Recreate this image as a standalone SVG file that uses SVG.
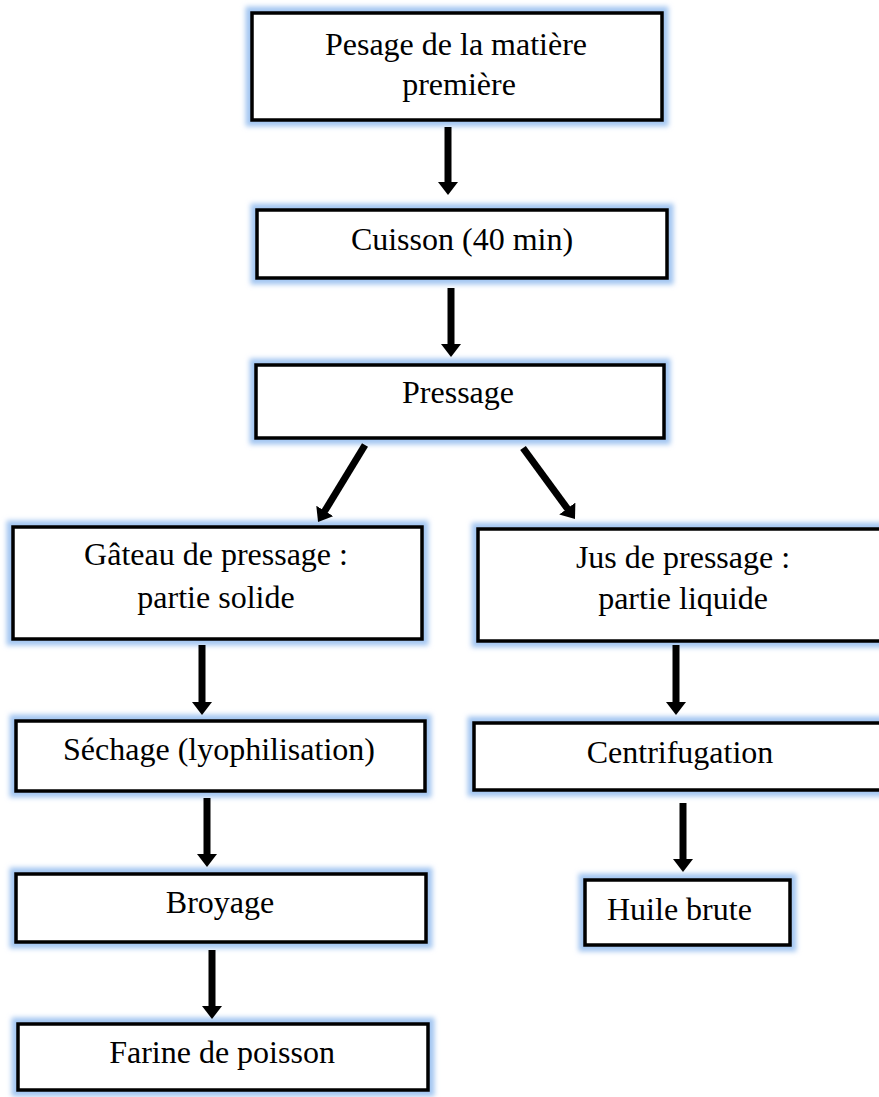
<svg xmlns="http://www.w3.org/2000/svg" width="879" height="1097" viewBox="0 0 879 1097">
<style>
.glow{fill:none;stroke:#a3c6f1;stroke-width:13;filter:url(#blur)}
.box{fill:#fff;stroke:#000;stroke-width:3.5}
.t{font-family:"Liberation Serif","Times New Roman",serif;font-size:32px;fill:#000;text-anchor:middle}
.ts{font-family:"Liberation Serif","Times New Roman",serif;font-size:32px;fill:#000}
.arr{stroke:#000;stroke-width:7;fill:none;marker-end:url(#ah)}
</style>
<defs>
<filter id="blur" x="-10%" y="-30%" width="120%" height="160%"><feGaussianBlur stdDeviation="2.5"/></filter>
<marker id="ah" markerUnits="userSpaceOnUse" viewBox="0 -10 13 20" refX="1" refY="0" markerWidth="13" markerHeight="20" orient="auto"><path d="M0,-10 L13,0 L0,10 z" fill="#000"/></marker>
</defs>
<rect width="879" height="1097" fill="#fff"/>
<g id="n1"><rect class="glow" x="252" y="13" width="410" height="107"/><rect class="box" x="252" y="13" width="410" height="107"/><text class="t" x="456" y="55">Pesage de la matière</text><text class="t" x="459" y="95">première</text></g>
<g id="n2"><rect class="glow" x="257" y="210" width="410" height="68"/><rect class="box" x="257" y="210" width="410" height="68"/><text class="t" x="462" y="250">Cuisson (40 min)</text></g>
<g id="n3"><rect class="glow" x="256" y="365" width="408" height="73"/><rect class="box" x="256" y="365" width="408" height="73"/><text class="t" x="458" y="403">Pressage</text></g>
<g id="n4"><rect class="glow" x="13" y="527" width="409" height="112"/><rect class="box" x="13" y="527" width="409" height="112"/><text class="t" x="216" y="565">Gâteau de pressage :</text><text class="t" x="216" y="608">partie solide</text></g>
<g id="n5"><rect class="glow" x="478" y="529" width="410" height="112"/><rect class="box" x="478" y="529" width="410" height="112"/><text class="t" x="683" y="568">Jus de pressage :</text><text class="t" x="683" y="609">partie liquide</text></g>
<g id="n6"><rect class="glow" x="16" y="721" width="409" height="70"/><rect class="box" x="16" y="721" width="409" height="70"/><text class="t" x="219" y="760">Séchage (lyophilisation)</text></g>
<g id="n7"><rect class="glow" x="474" y="723" width="410" height="67"/><rect class="box" x="474" y="723" width="410" height="67"/><text class="t" x="680" y="763">Centrifugation</text></g>
<g id="n8"><rect class="glow" x="16" y="874" width="410" height="68"/><rect class="box" x="16" y="874" width="410" height="68"/><text class="t" x="220" y="913">Broyage</text></g>
<g id="n9"><rect class="glow" x="585" y="880" width="205" height="65"/><rect class="box" x="585" y="880" width="205" height="65"/><text class="ts" x="607" y="920">Huile brute</text></g>
<g id="n10"><rect class="glow" x="18" y="1024" width="410" height="66"/><rect class="box" x="18" y="1024" width="410" height="66"/><text class="t" x="222" y="1063">Farine de poisson</text></g>
<g id="connectors">
<line class="arr" x1="448" y1="127" x2="448" y2="183"/>
<line class="arr" x1="451" y1="288" x2="451" y2="345"/>
<line class="arr" x1="365" y1="445" x2="324.3" y2="511.8"/>
<line class="arr" x1="523" y1="448" x2="567.9" y2="509.3"/>
<line class="arr" x1="202" y1="645" x2="202" y2="703"/>
<line class="arr" x1="676" y1="645" x2="676" y2="703"/>
<line class="arr" x1="207" y1="798" x2="207" y2="855"/>
<line class="arr" x1="683" y1="803" x2="683" y2="860"/>
<line class="arr" x1="212" y1="950" x2="212" y2="1007"/>
</g>
</svg>
